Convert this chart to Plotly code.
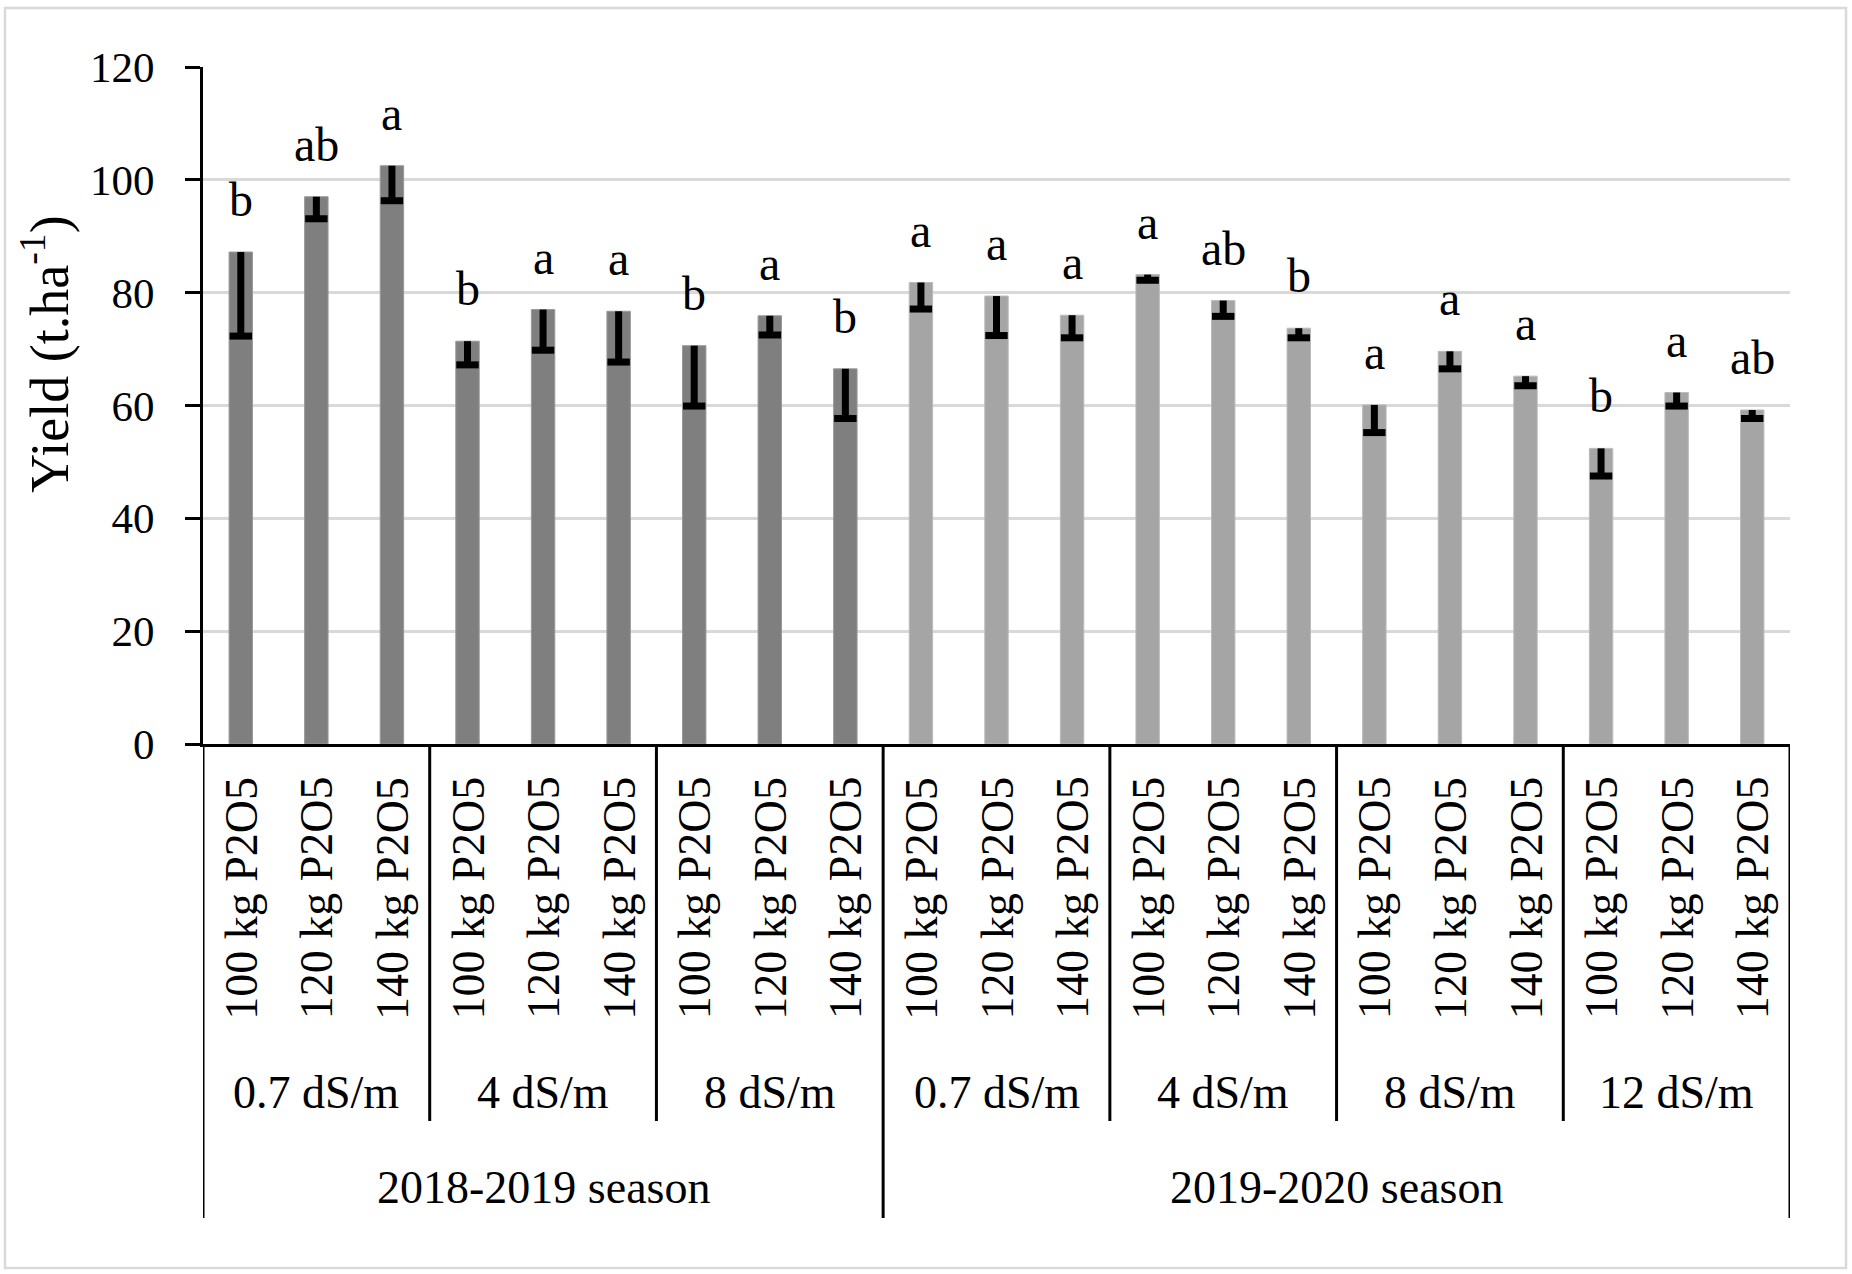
import plotly.graph_objects as go

# ---- data ----
doses = ["100 kg P2O5", "120 kg P2O5", "140 kg P2O5"]
salinity_2018 = ["0.7 dS/m", "4 dS/m", "8 dS/m"]
salinity_2019 = ["0.7 dS/m", "4 dS/m", "8 dS/m", "12 dS/m"]
seasons = ["2018-2019 season", "2019-2020 season"]

yield_2018 = [87.2, 97.0, 102.5, 71.4, 77.0, 76.7, 70.6, 75.9, 66.5]
err_2018 = [14.9, 3.9, 6.2, 4.2, 7.2, 9.0, 10.7, 3.4, 8.8]
letters_2018 = ["b", "ab", "a", "b", "a", "a", "b", "a", "b"]

yield_2019 = [81.8, 79.4, 76.0, 83.2, 78.6, 73.7, 60.1, 69.6, 65.2, 52.4, 62.3, 59.2]
err_2019 = [4.7, 7.0, 4.0, 1.0, 2.8, 1.7, 4.9, 3.1, 1.7, 4.9, 2.4, 1.5]
letters_2019 = ["a", "a", "a", "a", "ab", "b", "a", "a", "a", "b", "a", "ab"]

y_ticks = [0, 20, 40, 60, 80, 100, 120]

# ---- derived positions ----
n1, n2 = len(yield_2018), len(yield_2019)
x1 = list(range(n1))
x2 = list(range(n1, n1 + n2))
x_all = x1 + x2
vals = yield_2018 + yield_2019
errs = err_2018 + err_2019
letters = letters_2018 + letters_2019
groups = salinity_2018 + salinity_2019

FONT = "Liberation Serif"
W, H = 1852, 1274
ML, MR, MT, MB = 203, 62, 67, 530
PH = H - MT - MB
PW = W - ML - MR

fig = go.Figure()

def bar_trace(x, y, e, color, edge):
    return go.Bar(
        x=x, y=y, width=0.31,
        marker=dict(color=color, line=dict(color=edge, width=1)),
        error_y=dict(type="data", symmetric=False, array=[0] * len(y),
                     arrayminus=e, width=0, thickness=7, color="black"),
        showlegend=False, hoverinfo="skip",
    )

fig.add_trace(bar_trace(x1, yield_2018, err_2018, "#7F7F7F", "#999999"))
fig.add_trace(bar_trace(x2, yield_2019, err_2019, "#A5A5A5", "#BBBBBB"))

# caps at lower end of the error bars
fig.add_trace(go.Scatter(
    x=x_all, y=[v - e for v, e in zip(vals, errs)], mode="markers",
    marker=dict(symbol="line-ew", size=16, color="black",
                line=dict(color="black", width=7)),
    showlegend=False, hoverinfo="skip",
))

annotations = []
# significance letters
for xi, v, t in zip(x_all, vals, letters):
    annotations.append(dict(x=xi, y=v, xref="x", yref="y", text=t, showarrow=False,
                            yanchor="bottom", yshift=24,
                            font=dict(family=FONT, size=48, color="black")))
# dose labels (rotated)
for xi in x_all:
    annotations.append(dict(x=xi, y=0, xref="x", yref="paper", text=doses[xi % 3],
                            showarrow=False, textangle=-90, yanchor="middle",
                            xanchor="center", yshift=-154,
                            font=dict(family=FONT, size=46, color="black")))
# salinity labels
for gi, g in enumerate(groups):
    annotations.append(dict(x=gi * 3 + 1, y=0, xref="x", yref="paper", text=g,
                            showarrow=False, yanchor="middle", yshift=-348,
                            font=dict(family=FONT, size=46, color="black")))
# season labels
season_centers = [(x1[0] + x1[-1]) / 2, (x2[0] + x2[-1]) / 2]
for sc, s in zip(season_centers, seasons):
    annotations.append(dict(x=sc, y=0, xref="x", yref="paper", text=s,
                            showarrow=False, yanchor="middle", yshift=-443,
                            font=dict(family=FONT, size=46, color="black")))
# y-axis title
annotations.append(dict(x=0, y=69, xref="paper", yref="y", text="Yield (t.ha<sup>-1</sup>)",
                        showarrow=False, textangle=-90, xanchor="center", yanchor="middle",
                        xshift=-157, font=dict(family=FONT, size=54, color="black")))

shapes = []
def py(pix):
    return (MT + PH - pix) / PH

group_bounds = [2.5, 5.5, 11.5, 14.5, 17.5]
season_bounds = [-0.5, n1 - 0.5, n1 + n2 - 0.5]
for b in group_bounds:
    shapes.append(dict(type="line", xref="x", yref="paper", x0=b, x1=b,
                       y0=0, y1=py(1121), line=dict(color="black", width=3)))
for b in season_bounds:
    shapes.append(dict(type="line", xref="x", yref="paper", x0=b, x1=b,
                       y0=0, y1=py(1218), line=dict(color="black", width=3)))
# chart border
shapes.append(dict(type="rect", xref="paper", yref="paper",
                   x0=(5 - ML) / PW, x1=(1846 - ML) / PW, y0=py(1268), y1=py(8),
                   line=dict(color="#D9D9D9", width=2.5), fillcolor="rgba(0,0,0,0)"))

fig.update_layout(
    width=W, height=H,
    margin=dict(l=ML, r=MR, t=MT, b=MB),
    paper_bgcolor="white", plot_bgcolor="white",
    barmode="overlay",
    annotations=annotations, shapes=shapes,
    font=dict(family=FONT, color="black"),
    xaxis=dict(range=[-0.5, n1 + n2 - 0.5], showticklabels=False, ticks="",
               showgrid=False, zeroline=False, showline=True,
               linecolor="black", linewidth=3),
    yaxis=dict(range=[0, 120], tickvals=y_ticks, showgrid=True, gridcolor="#D9D9D9",
               gridwidth=3, zeroline=False, showline=True, linecolor="black",
               linewidth=3, ticks="outside", ticklen=15, tickwidth=3, tickcolor="black",
               ticklabelstandoff=22,
               tickfont=dict(family=FONT, size=43, color="black")),
)

fig.write_html("out.html", config={"displayModeBar": False},
               post_script="document.body.style.margin='0';document.body.style.padding='0';")
